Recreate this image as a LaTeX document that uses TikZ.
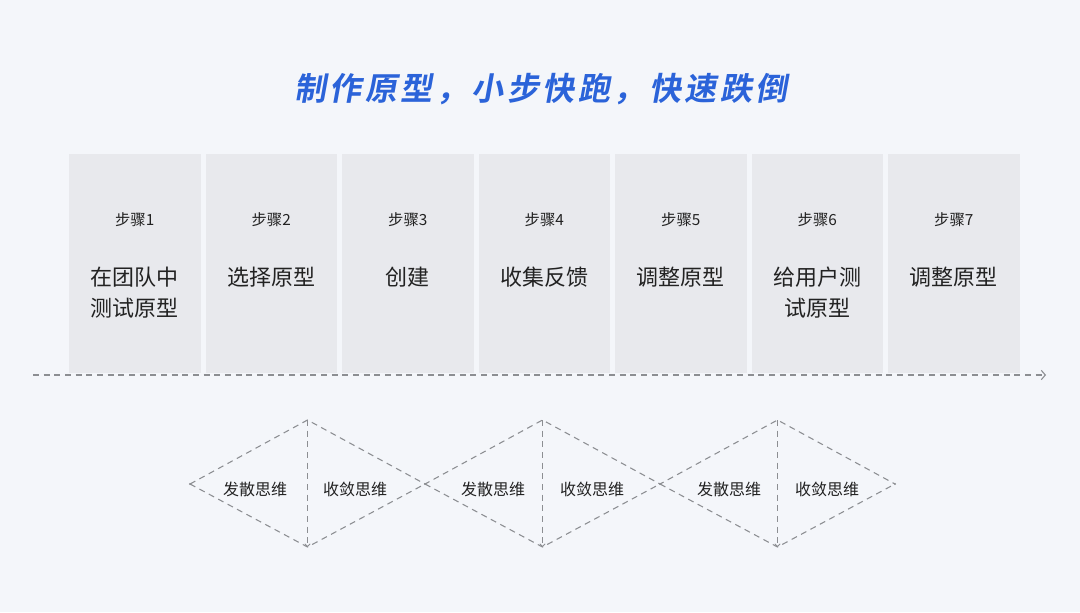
\documentclass[tikz,border=0pt]{standalone}
\usepackage{fontspec}
\setmainfont{Noto Sans CJK SC}
\newfontfamily\titlefont[FakeSlant=0.18,LetterSpace=11,BoldFont={Noto Sans CJK SC Bold}]{Noto Sans CJK SC}
\usetikzlibrary{arrows.meta}
\definecolor{bgc}{HTML}{F4F6FA}
\definecolor{boxc}{HTML}{E8E9ED}
\definecolor{titlec}{HTML}{2B63D9}
\definecolor{txtc}{HTML}{222222}
\definecolor{dashc}{HTML}{8C8E92}
\tikzset{
  stepbox/.style={fill=boxc, draw=none, minimum width=131.5*0.75pt, minimum height=219*0.75pt, inner sep=0pt, anchor=north west},
  steplabel/.style={text=txtc, font=\fontsize{11.5pt}{13pt}\selectfont, anchor=center},
  mainlabel/.style={text=txtc, font=\fontsize{16.5pt}{23.25pt}\selectfont, anchor=north, align=center},
  dlabel/.style={text=txtc, font=\fontsize{12pt}{14pt}\selectfont, anchor=center},
  dline/.style={draw=dashc, line width=0.8pt, dash pattern=on 4.5pt off 3.5pt},
}
\begin{document}
\begin{tikzpicture}[x=0.75pt,y=-0.75pt]
\fill[bgc] (0,0) rectangle (1080,612);
\useasboundingbox (0,0) rectangle (1080,612);
\node[text=titlec, font=\titlefont\bfseries\fontsize{24pt}{28pt}\selectfont] (title) at (541,89) {制作原型，小步快跑，快速跌倒};
% boxes
\foreach \i/\name/\lab in {0/1/{在团队中\\测试原型},1/2/{选择原型},2/3/{创建},3/4/{收集反馈},4/5/{调整原型},5/6/{给用户测\\试原型},6/7/{调整原型}}{
  \node[stepbox] (box\name) at ({69+136.5*\i},154) {};
  \node[steplabel] (step\name) at ({69+136.5*\i+65.75},220) {步骤\name};
  \node[mainlabel] (main\name) at ({69+136.5*\i+65.75},262) {\lab};
}
% timeline
\coordinate (tlstart) at (33,375);
\coordinate (tlend) at (1046,375);
\draw[dline, -{Straight Barb[length=3pt,width=7pt,line width=0.8pt]}] (tlstart) -- (tlend);
% diamonds
\foreach \k/\x in {a/190,b/425,c/660,d/895}{\coordinate (ap\k) at (\x,484);}
\foreach \k/\x in {a/307.5,b/542.5,c/777.5}{
  \coordinate (top\k) at (\x,420);
  \coordinate (bot\k) at (\x,547);
}
\draw[dline] (apa) -- (topa) -- (apb) -- (topb) -- (apc) -- (topc) -- (apd);
\draw[dline] (apa) -- (bota) -- (apb) -- (botb) -- (apc) -- (botc) -- (apd);
\foreach \k in {a,b,c}{
  \draw[dline, -{Straight Barb[length=2pt,width=4pt,line width=0.6pt]}] (top\k) -- (bot\k);
}
\foreach \k in {a,b,c,d}{\fill[dashc] (ap\k) circle (1.1);}
\node[dlabel] (d1) at (255,489) {发散思维};
\node[dlabel] (c1) at (355,489) {收敛思维};
\node[dlabel] (d2) at (493,489) {发散思维};
\node[dlabel] (c2) at (592,489) {收敛思维};
\node[dlabel] (d3) at (729,489) {发散思维};
\node[dlabel] (c3) at (827,489) {收敛思维};
\end{tikzpicture}
\end{document}
